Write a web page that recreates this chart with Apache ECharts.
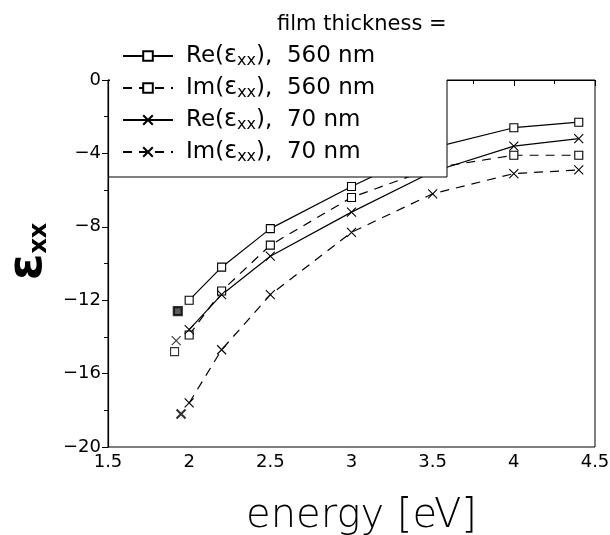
<!DOCTYPE html>
<html>
<head>
<meta charset="utf-8">
<script src="https://cdn.jsdelivr.net/npm/echarts@6/dist/echarts.min.js"></script>
<style>
  html, body { margin: 0; padding: 0; background: #fff; }
  #chart { width: 610px; height: 535px; }
</style>
</head>
<body>
<div id="chart"></div>
<script>
const energy = [2.0, 2.2, 2.5, 3.0, 3.5, 4.0, 4.4];
const re560 = [-12.0, -10.2, -8.1, -5.8, -3.7, -2.6, -2.3];
const im560 = [-13.9, -11.5, -9.0, -6.4, -4.8, -4.1, -4.1];
const re70 = [-13.6, -11.7, -9.6, -7.2, -5.0, -3.6, -3.2];
const im70 = [-17.6, -14.7, -11.7, -8.3, -6.2, -5.1, -4.9];

// stray points near the band edge, not joined by lines
const edgeEnergy = { re560: 1.93, im560: 1.91, re70: 1.92, im70: 1.95 };
const edgeValue = { re560: -12.6, im560: -14.8, re70: -14.2, im70: -18.2 };

const legendText = {
  re560: "{t|Re(}{e|ε}{s|xx}{t|),  560 nm}",
  im560: "{t|Im(}{e|ε}{s|xx}{t|),  560 nm}",
  re70: "{t|Re(}{e|ε}{s|xx}{t|),  70 nm}",
  im70: "{t|Im(}{e|ε}{s|xx}{t|),  70 nm}"
};

const CROSS = "path://M0,0L10,10M10,0L0,10";
const FONT = "DejaVu Sans";

const chart = echarts.init(document.getElementById("chart"));

function pairs(ys) {
  return energy.map((x, i) => [x, ys[i]]);
}

function lineSeries(key, values, dashed, symbol) {
  return {
    name: key,
    type: "line",
    data: pairs(values),
    symbol: symbol,
    symbolSize: symbol === "rect" ? 8 : 9,
    lineStyle: { color: "#000", width: 1.2, type: dashed ? [9, 7] : "solid" },
    itemStyle: { color: symbol === "rect" ? "#fff" : "#000", borderColor: "#000", borderWidth: 1.1 },
    z: 2,
    animation: false
  };
}

function edgeSeries(key, symbol, bold) {
  return {
    type: "scatter",
    data: [[edgeEnergy[key], edgeValue[key]]],
    symbol: symbol,
    symbolSize: symbol === "rect" ? 8 : 9,
    itemStyle: {
      color: symbol === "rect" ? (bold ? "#333" : "#fff") : "#000",
      borderColor: "#000",
      borderWidth: bold ? 2.2 : 1.1
    },
    z: 2,
    animation: false
  };
}

const richLegend = {
  t: { fontFamily: FONT, fontSize: 23, color: "#000", lineHeight: 26 },
  e: { fontFamily: FONT, fontSize: 24, color: "#000", lineHeight: 26 },
  s: { fontFamily: FONT, fontSize: 16, color: "#000", lineHeight: 12, verticalAlign: "bottom" }
};

chart.setOption({
  backgroundColor: "#fff",
  animation: false,
  title: {
    text: "film thickness =",
    left: 272,
    top: 9,
    textStyle: { fontFamily: FONT, fontSize: 21, fontWeight: "normal", color: "#000" }
  },
  grid: {
    left: 108, right: 15, top: 80, bottom: 88,
    outerBoundsMode: "none",
    containLabel: false,
    show: true, borderColor: "#000", borderWidth: 1
  },
  legend: {
    orient: "vertical",
    left: 122,
    top: 44,
    padding: 0,
    itemWidth: 50,
    itemHeight: 12,
    itemGap: 7,
    data: ["re560", "im560", "re70", "im70"],
    formatter: (name) => legendText[name],
    textStyle: { padding: [0, 0, 0, 8], rich: richLegend },
    z: 4
  },
  xAxis: {
    type: "value",
    min: 1.5, max: 4.5, interval: 0.5,
    name: "energy [eV]",
    nameLocation: "middle",
    nameGap: 50,
    nameTextStyle: { fontFamily: FONT, fontSize: 40, fontWeight: 200, color: "#000", padding: [0, 0, 0, 20] },
    axisLine: { lineStyle: { color: "#000", width: 1.2 } },
    axisTick: { length: 6, lineStyle: { color: "#000" } },
    minorTick: { show: true, splitNumber: 2, length: 4, lineStyle: { color: "#000" } },
    splitLine: { show: false },
    axisLabel: { fontFamily: FONT, fontSize: 18, color: "#000", margin: 6 }
  },
  yAxis: {
    type: "value",
    min: -20, max: 0, interval: 4,
    name: "{e|ε}{s|xx}",
    nameLocation: "middle",
    nameRotate: 90,
    nameGap: 52,
    nameTextStyle: {
      padding: [0, 0, 0, 24],
      rich: {
        e: { fontFamily: FONT, fontSize: 48, fontWeight: "bold", color: "#000", lineHeight: 48 },
        s: { fontFamily: FONT, fontSize: 24, fontWeight: "bold", color: "#000", lineHeight: 24, verticalAlign: "bottom" }
      }
    },
    axisLine: { lineStyle: { color: "#000", width: 1.2 } },
    axisTick: { length: 6, lineStyle: { color: "#000" } },
    minorTick: { show: true, splitNumber: 2, length: 4, lineStyle: { color: "#000" } },
    splitLine: { show: false },
    axisLabel: {
      fontFamily: FONT, fontSize: 18, color: "#000", margin: 7,
      formatter: (v) => String(v).replace("-", "\u2212")
    }
  },
  graphic: [
    { type: "rect", shape: { x: 110, y: 0, width: 337, height: 177 }, style: { fill: "#fff" }, z: 3 },
    { type: "line", shape: { x1: 108, y1: 177, x2: 447, y2: 177 }, style: { stroke: "#000", lineWidth: 1 }, z: 3 },
    { type: "line", shape: { x1: 447, y1: 80, x2: 447, y2: 177 }, style: { stroke: "#000", lineWidth: 1 }, z: 3 }
  ],
  series: [
    lineSeries("re560", re560, false, "rect"),
    lineSeries("im560", im560, true, "rect"),
    lineSeries("re70", re70, false, CROSS),
    lineSeries("im70", im70, true, CROSS),
    edgeSeries("re560", "rect", true),
    edgeSeries("im560", "rect", false),
    edgeSeries("re70", CROSS, false),
    edgeSeries("im70", CROSS, true)
  ]
});
</script>
</body>
</html>
